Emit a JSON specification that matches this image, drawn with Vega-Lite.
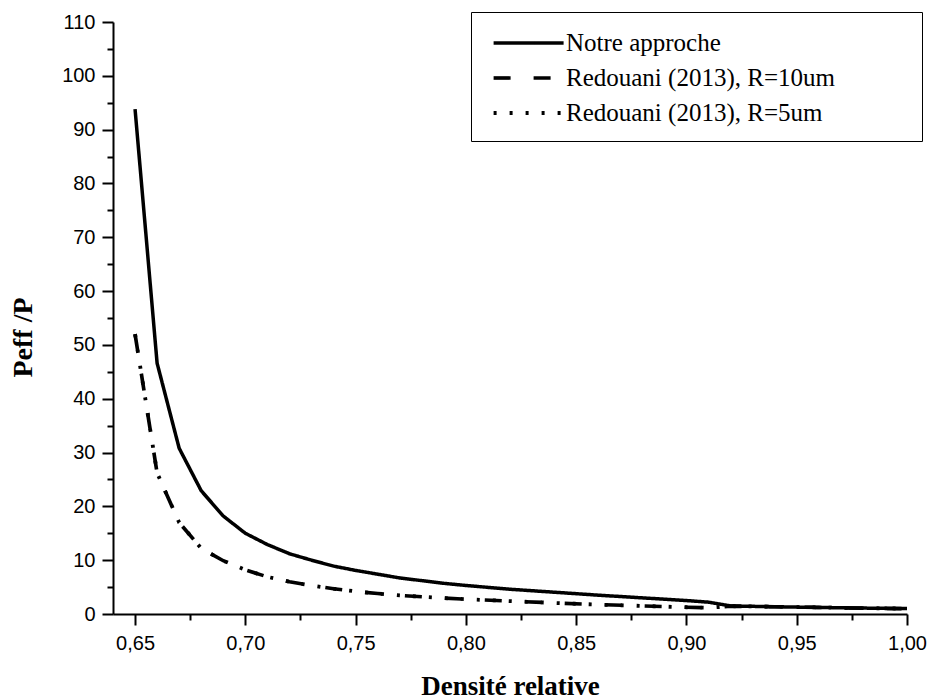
{
  "$schema": "https://vega.github.io/schema/vega-lite/v6.json",
  "width": 794,
  "height": 592,
  "autosize": {"type": "none"},
  "padding": {"left": 113, "top": 22, "right": 25, "bottom": 86},
  "background": "white",
  "config": {"view": {"stroke": null}},
  "data": {
    "values": [
      {"x": 0.65, "y": 93.8, "s": "Notre approche"},
      {"x": 0.66, "y": 46.6, "s": "Notre approche"},
      {"x": 0.67, "y": 30.8, "s": "Notre approche"},
      {"x": 0.68, "y": 22.9, "s": "Notre approche"},
      {"x": 0.69, "y": 18.2, "s": "Notre approche"},
      {"x": 0.70, "y": 15.0, "s": "Notre approche"},
      {"x": 0.71, "y": 12.9, "s": "Notre approche"},
      {"x": 0.72, "y": 11.2, "s": "Notre approche"},
      {"x": 0.73, "y": 10.0, "s": "Notre approche"},
      {"x": 0.74, "y": 8.9, "s": "Notre approche"},
      {"x": 0.75, "y": 8.1, "s": "Notre approche"},
      {"x": 0.76, "y": 7.4, "s": "Notre approche"},
      {"x": 0.77, "y": 6.7, "s": "Notre approche"},
      {"x": 0.78, "y": 6.2, "s": "Notre approche"},
      {"x": 0.79, "y": 5.7, "s": "Notre approche"},
      {"x": 0.80, "y": 5.3, "s": "Notre approche"},
      {"x": 0.82, "y": 4.6, "s": "Notre approche"},
      {"x": 0.84, "y": 4.05, "s": "Notre approche"},
      {"x": 0.86, "y": 3.5, "s": "Notre approche"},
      {"x": 0.88, "y": 3.0, "s": "Notre approche"},
      {"x": 0.90, "y": 2.5, "s": "Notre approche"},
      {"x": 0.91, "y": 2.2, "s": "Notre approche"},
      {"x": 0.92, "y": 1.5, "s": "Notre approche"},
      {"x": 0.94, "y": 1.35, "s": "Notre approche"},
      {"x": 0.96, "y": 1.22, "s": "Notre approche"},
      {"x": 0.98, "y": 1.1, "s": "Notre approche"},
      {"x": 1.00, "y": 1.0, "s": "Notre approche"},

      {"x": 0.65, "y": 52.0, "s": "Redouani (2013), R=10um"},
      {"x": 0.66, "y": 26.2, "s": "Redouani (2013), R=10um"},
      {"x": 0.67, "y": 17.0, "s": "Redouani (2013), R=10um"},
      {"x": 0.68, "y": 12.2, "s": "Redouani (2013), R=10um"},
      {"x": 0.69, "y": 9.9, "s": "Redouani (2013), R=10um"},
      {"x": 0.70, "y": 8.2, "s": "Redouani (2013), R=10um"},
      {"x": 0.71, "y": 6.9, "s": "Redouani (2013), R=10um"},
      {"x": 0.72, "y": 6.0, "s": "Redouani (2013), R=10um"},
      {"x": 0.73, "y": 5.3, "s": "Redouani (2013), R=10um"},
      {"x": 0.74, "y": 4.7, "s": "Redouani (2013), R=10um"},
      {"x": 0.75, "y": 4.2, "s": "Redouani (2013), R=10um"},
      {"x": 0.76, "y": 3.8, "s": "Redouani (2013), R=10um"},
      {"x": 0.77, "y": 3.45, "s": "Redouani (2013), R=10um"},
      {"x": 0.78, "y": 3.2, "s": "Redouani (2013), R=10um"},
      {"x": 0.79, "y": 2.95, "s": "Redouani (2013), R=10um"},
      {"x": 0.80, "y": 2.75, "s": "Redouani (2013), R=10um"},
      {"x": 0.82, "y": 2.4, "s": "Redouani (2013), R=10um"},
      {"x": 0.84, "y": 2.05, "s": "Redouani (2013), R=10um"},
      {"x": 0.86, "y": 1.75, "s": "Redouani (2013), R=10um"},
      {"x": 0.88, "y": 1.5, "s": "Redouani (2013), R=10um"},
      {"x": 0.90, "y": 1.25, "s": "Redouani (2013), R=10um"},
      {"x": 0.91, "y": 1.15, "s": "Redouani (2013), R=10um"},
      {"x": 0.92, "y": 1.45, "s": "Redouani (2013), R=10um"},
      {"x": 0.94, "y": 1.35, "s": "Redouani (2013), R=10um"},
      {"x": 0.96, "y": 1.22, "s": "Redouani (2013), R=10um"},
      {"x": 0.98, "y": 1.1, "s": "Redouani (2013), R=10um"},
      {"x": 1.00, "y": 1.0, "s": "Redouani (2013), R=10um"},

      {"x": 0.65, "y": 52.0, "s": "Redouani (2013), R=5um"},
      {"x": 0.66, "y": 26.2, "s": "Redouani (2013), R=5um"},
      {"x": 0.67, "y": 17.0, "s": "Redouani (2013), R=5um"},
      {"x": 0.68, "y": 12.2, "s": "Redouani (2013), R=5um"},
      {"x": 0.69, "y": 9.9, "s": "Redouani (2013), R=5um"},
      {"x": 0.70, "y": 8.2, "s": "Redouani (2013), R=5um"},
      {"x": 0.71, "y": 6.9, "s": "Redouani (2013), R=5um"},
      {"x": 0.72, "y": 6.0, "s": "Redouani (2013), R=5um"},
      {"x": 0.73, "y": 5.3, "s": "Redouani (2013), R=5um"},
      {"x": 0.74, "y": 4.7, "s": "Redouani (2013), R=5um"},
      {"x": 0.75, "y": 4.2, "s": "Redouani (2013), R=5um"},
      {"x": 0.76, "y": 3.8, "s": "Redouani (2013), R=5um"},
      {"x": 0.77, "y": 3.45, "s": "Redouani (2013), R=5um"},
      {"x": 0.78, "y": 3.2, "s": "Redouani (2013), R=5um"},
      {"x": 0.79, "y": 2.95, "s": "Redouani (2013), R=5um"},
      {"x": 0.80, "y": 2.75, "s": "Redouani (2013), R=5um"},
      {"x": 0.82, "y": 2.4, "s": "Redouani (2013), R=5um"},
      {"x": 0.84, "y": 2.05, "s": "Redouani (2013), R=5um"},
      {"x": 0.86, "y": 1.75, "s": "Redouani (2013), R=5um"},
      {"x": 0.88, "y": 1.5, "s": "Redouani (2013), R=5um"},
      {"x": 0.90, "y": 1.25, "s": "Redouani (2013), R=5um"},
      {"x": 0.91, "y": 1.15, "s": "Redouani (2013), R=5um"},
      {"x": 0.92, "y": 1.45, "s": "Redouani (2013), R=5um"},
      {"x": 0.94, "y": 1.35, "s": "Redouani (2013), R=5um"},
      {"x": 0.96, "y": 1.22, "s": "Redouani (2013), R=5um"},
      {"x": 0.98, "y": 1.1, "s": "Redouani (2013), R=5um"},
      {"x": 1.00, "y": 1.0, "s": "Redouani (2013), R=5um"}
    ]
  },
  "resolve": {"axis": {"x": "independent", "y": "independent"}},
  "layer": [
    {
      "mark": {"type": "line", "color": "black", "strokeCap": "butt", "strokeJoin": "miter", "clip": true},
      "encoding": {
        "x": {
          "field": "x", "type": "quantitative",
          "scale": {"domain": [0.64, 1.0], "nice": false, "zero": false},
          "axis": {
            "orient": "bottom",
            "values": [0.65, 0.70, 0.75, 0.80, 0.85, 0.90, 0.95, 1.00],
            "labelExpr": "replace(format(datum.value, '.2f'), '.', ',')",
            "grid": false, "domainColor": "black", "domainWidth": 2,
            "tickColor": "black", "tickWidth": 2, "tickSize": 11,
            "labelFont": "Liberation Sans", "labelFontSize": 20, "labelColor": "black",
            "labelPadding": 8, "labelFlush": false, "labelOverlap": false,
            "title": "Densité relative",
            "titleFont": "Liberation Serif", "titleFontSize": 27, "titleFontWeight": "bold",
            "titleColor": "black", "titlePadding": 20
          }
        },
        "y": {
          "field": "y", "type": "quantitative",
          "scale": {"domain": [0, 110], "nice": false},
          "axis": {
            "orient": "left",
            "values": [0, 10, 20, 30, 40, 50, 60, 70, 80, 90, 100, 110],
            "grid": false, "domainColor": "black", "domainWidth": 2,
            "tickColor": "black", "tickWidth": 2, "tickSize": 11,
            "labelFont": "Liberation Sans", "labelFontSize": 20, "labelColor": "black",
            "labelPadding": 7, "labelFlush": false, "labelOverlap": false,
            "title": "Peff /P",
            "titleFont": "Liberation Serif", "titleFontSize": 28, "titleFontWeight": "bold",
            "titleColor": "black", "titlePadding": 24, "titleY": 315
          }
        },
        "detail": {"field": "s"},
        "strokeDash": {
          "field": "s", "type": "nominal",
          "scale": {
            "domain": ["Notre approche", "Redouani (2013), R=10um", "Redouani (2013), R=5um"],
            "range": [[1, 0], [17, 23], [3, 13]]
          },
          "legend": {
            "orient": "none", "legendX": 358, "legendY": -10,
            "title": null,
            "strokeColor": "black", "fillColor": "white", "padding": 15,
            "symbolType": "M-0.6,0H4.4", "symbolSize": 784, "symbolStrokeWidth": 3,
            "symbolStrokeColor": "black", "symbolFillColor": "transparent",
            "labelFont": "Liberation Serif", "labelFontSize": 25, "labelColor": "black",
            "labelOffset": 48, "rowPadding": 6, "labelLimit": 600,
            "labelExpr": "datum.label + '\u2800\u2800\u2800\u2800'"
          }
        },
        "strokeWidth": {
          "field": "s", "type": "nominal",
          "scale": {
            "domain": ["Notre approche", "Redouani (2013), R=10um", "Redouani (2013), R=5um"],
            "range": [3.5, 3.8, 3.2]
          },
          "legend": null
        }
      }
    },
    {
      "mark": {"type": "line", "opacity": 0},
      "encoding": {
        "x": {
          "field": "x", "type": "quantitative",
          "axis": {
            "orient": "bottom",
            "values": [0.675, 0.725, 0.775, 0.825, 0.875, 0.925, 0.975],
            "labels": false, "domain": false, "grid": false,
            "tickColor": "black", "tickWidth": 2, "tickSize": 6, "title": null
          }
        },
        "y": {
          "field": "y", "type": "quantitative",
          "axis": {
            "orient": "left",
            "values": [5, 15, 25, 35, 45, 55, 65, 75, 85, 95, 105],
            "labels": false, "domain": false, "grid": false,
            "tickColor": "black", "tickWidth": 2, "tickSize": 6, "title": null
          }
        },
        "detail": {"field": "s"}
      }
    }
  ]
}
